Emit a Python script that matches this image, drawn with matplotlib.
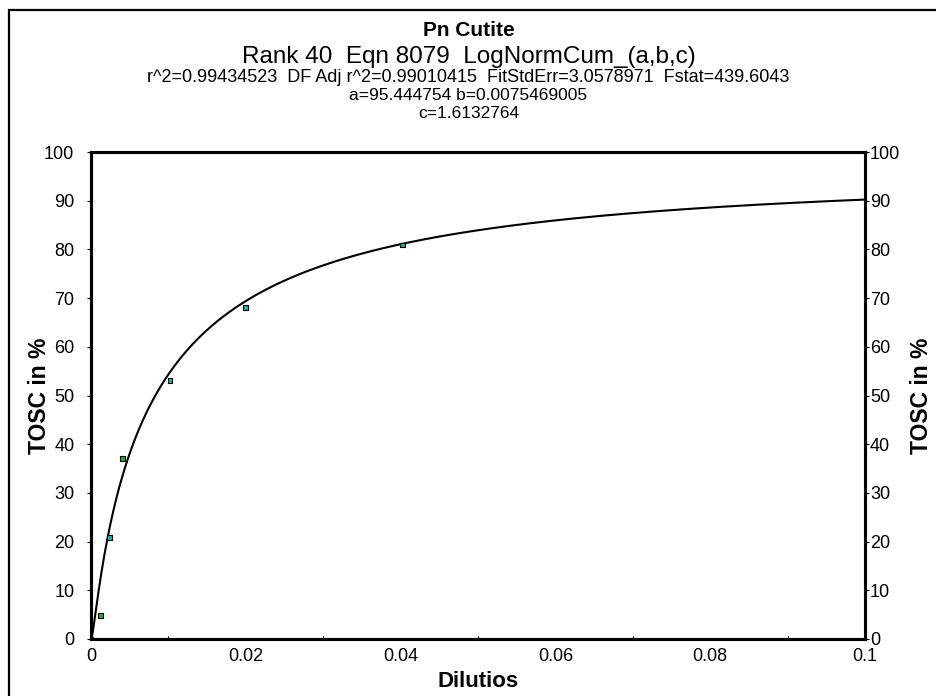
"""
Pn Cutite - LogNormCum fit of TOSC vs dilution
"""

import math

import matplotlib

matplotlib.use("Agg")
import matplotlib.pyplot as plt
import numpy as np

plt.rcParams["font.family"] = ["Liberation Sans", "DejaVu Sans"]

# measured points
dilution = [0.0, 0.0012, 0.0024, 0.0041, 0.0102, 0.0200, 0.0402]
tosc = [0.0, 4.9, 20.9, 37.0, 53.0, 68.0, 80.9]

# fitted parameters, as printed in the title
fit_a = 95.444754
fit_b = 0.0075469005
fit_c = 1.6132764

title_lines = [
    "Pn Cutite",
    "Rank 40  Eqn 8079  LogNormCum_(a,b,c)",
    "r^2=0.99434523  DF Adj r^2=0.99010415  FitStdErr=3.0578971  Fstat=439.6043",
    "a=95.444754 b=0.0075469005",
    "c=1.6132764",
]
x_ticks = [0, 0.02, 0.04, 0.06, 0.08, 0.1]
x_ticklabels = ["0", "0.02", "0.04", "0.06", "0.08", "0.1"]
y_ticks = list(range(0, 101, 10))


def lognorm_cum(x):
    # a * Phi(ln(x/b)/c)
    if x <= 0:
        return 0.0
    z = math.log(x / fit_b) / fit_c
    return fit_a * 0.5 * (1.0 + math.erf(z / math.sqrt(2.0)))


fig = plt.figure(figsize=(9.37, 6.96), dpi=100)
ax = fig.add_axes([0.0971, 0.0819, 0.8261, 0.6997])

# outer frame of the figure (runs off the right and bottom edges)
fig.patches.append(
    plt.Rectangle(
        (9 / 937, -0.05), 1.2, 1 - 10 / 696 + 0.05,
        transform=fig.transFigure, fill=False, edgecolor="black", linewidth=1.6,
    )
)

xs = np.linspace(0, 0.1, 800)
ax.plot(xs, [lognorm_cum(x) for x in xs], color="black", linewidth=1.5, zorder=2)

marker_colors = ["#1a3a3a", "#22b022", "#18b0b0", "#22b022", "#18b0b0", "#18b0b0", "#18b0b0"]
ax.scatter(dilution, tosc, marker="s", s=12, c=marker_colors,
           edgecolors="black", linewidths=0.8, zorder=3)

ax.set_xlim(0, 0.1)
ax.set_ylim(0, 100)
ax.set_xticks(x_ticks)
ax.set_xticklabels(x_ticklabels)
ax.set_xticks([0.01, 0.03, 0.05, 0.07, 0.09], minor=True)
ax.set_yticks(y_ticks)

# right-hand axis, same scale, labels tight to the spine
ax2 = ax.twinx()
ax2.set_ylim(0, 100)
ax2.set_yticks(y_ticks)

for a in (ax, ax2):
    for side in ["left", "right", "top", "bottom"]:
        a.spines[side].set_linewidth(2.2)

ax.tick_params(axis="x", which="major", length=0, pad=6.5, labelsize=13)
ax.tick_params(axis="x", which="minor", direction="in", length=2, width=0.8)
ax.tick_params(axis="y", which="major", direction="out", length=3, width=0.8,
               pad=9, labelsize=13)
ax2.tick_params(axis="y", which="major", direction="out", length=3, width=0.8,
                pad=0.5, labelsize=13)

ax.set_xlabel("Dilutios", fontsize=16, fontweight="bold")
ax.xaxis.set_label_coords(0.5, (639 - 682) / 487)
ax.xaxis.label.set_va("center")

ax.set_ylabel("TOSC in %", fontsize=16.5, fontweight="bold")
ax.yaxis.set_label_coords((40 - 91) / 774, 0.5)
ax.yaxis.label.set_va("center")

ax2.set_ylabel("TOSC in %", fontsize=16.5, fontweight="bold", rotation=90)
ax2.yaxis.set_label_coords((921 - 91) / 774, 0.5)
ax2.yaxis.label.set_va("center")

# title block
title_y = [31, 57, 78, 96, 114]
title_size = [15, 17.5, 13, 12.5, 12.5]
title_weight = ["bold", "normal", "normal", "normal", "normal"]
for line, yy, fs, fw in zip(title_lines, title_y, title_size, title_weight):
    fig.text(0.5, 1 - yy / 696, line, ha="center", va="center", fontsize=fs,
             fontweight=fw)

fig.savefig("out.png", dpi=100)
